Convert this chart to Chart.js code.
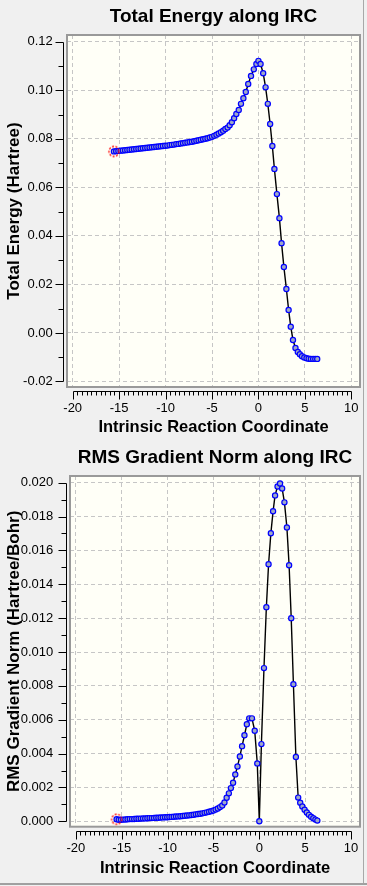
<!DOCTYPE html>
<html>
<head>
<meta charset="utf-8">
<title>IRC plots</title>
<script src="https://cdn.jsdelivr.net/npm/chart.js@4.4.1/dist/chart.umd.min.js"></script>
<style>
  html, body { margin: 0; padding: 0; background: #f0f0f0; }
  body { width: 367px; height: 886px; overflow: hidden; position: relative; }
  canvas { display: block; position: absolute; left: 0; }
  #energy-chart { top: 0; }
  #gradient-chart { top: 443px; }
  .edge-v { position: absolute; left: 363px; top: 0; width: 1px; height: 884px; background: #a8a8a8; }
  .edge-h { position: absolute; left: 0; top: 883px; width: 367px; height: 2px; background: #a0a0a0; }
</style>
</head>
<body>
<canvas id="energy-chart" width="367" height="443"></canvas>
<canvas id="gradient-chart" width="367" height="443"></canvas>
<div class="edge-v"></div>
<div class="edge-h"></div>
<script>
// IRC points, reactant end first, TS at 0
const ircCoord = [
  -15.56, -15.32, -15.08, -14.84, -14.60, -14.36, -14.12, -13.88, -13.64, -13.40,
  -13.16, -12.92, -12.68, -12.44, -12.20, -11.96, -11.72, -11.48, -11.24, -11.00,
  -10.76, -10.52, -10.28, -10.04, -9.80, -9.56, -9.32, -9.08, -8.84, -8.60,
  -8.36, -8.12, -7.88, -7.64, -7.40, -7.16, -6.92, -6.68, -6.44, -6.20,
  -5.96, -5.72, -5.48, -5.24,
  -5.00, -4.76, -4.52, -4.28, -4.04, -3.80, -3.56, -3.32, -3.10, -2.86,
  -2.62, -2.38, -2.12, -1.88, -1.62, -1.36, -1.10, -0.80, -0.50, -0.22,
  0,
  0.23, 0.51, 0.77, 1.01, 1.26, 1.50, 1.72, 1.99, 2.26, 2.49,
  2.74, 3.01, 3.25, 3.48, 3.72, 3.99, 4.24, 4.46, 4.69, 4.94,
  5.18, 5.41, 5.65, 5.89, 6.12, 6.33
];

const totalEnergy = [
  0.0748, 0.0749, 0.0750, 0.0751, 0.0752, 0.0753, 0.0754, 0.0755, 0.0756, 0.0757,
  0.0758, 0.0759, 0.0760, 0.0761, 0.0762, 0.0763, 0.0764, 0.0765, 0.0766, 0.0767,
  0.0768, 0.0769, 0.0770, 0.0771, 0.0772, 0.0774, 0.0775, 0.0776, 0.0778, 0.0779,
  0.0781, 0.0782, 0.0784, 0.0785, 0.0787, 0.0788, 0.0790, 0.0792, 0.0794, 0.0796,
  0.0798, 0.0800, 0.0802, 0.0805,
  0.0808, 0.0812, 0.0817, 0.0822, 0.0827, 0.0833, 0.0840, 0.0846, 0.0856, 0.0868,
  0.0885, 0.0902, 0.0919, 0.0944, 0.0967, 0.0993, 0.1026, 0.1059, 0.1086, 0.1108,
  0.1121,
  0.1108, 0.1070, 0.1012, 0.0944, 0.0861, 0.0770, 0.0676, 0.0572, 0.0473, 0.0370,
  0.0272, 0.0181, 0.0095, 0.0026, -0.0029, -0.0062, -0.0078, -0.0088, -0.0096, -0.0101,
  -0.0104, -0.0106, -0.0107, -0.0107, -0.0107, -0.0107
];

const rmsGradient = [
  0.00012, 0.00009, 0.00009, 0.00010, 0.00011, 0.00012, 0.00013, 0.00013, 0.00014, 0.00015,
  0.00015, 0.00016, 0.00017, 0.00017, 0.00018, 0.00019, 0.00019, 0.00020, 0.00021, 0.00021,
  0.00022, 0.00023, 0.00024, 0.00024, 0.00025, 0.00026, 0.00027, 0.00028, 0.00029, 0.00030,
  0.00031, 0.00033, 0.00034, 0.00035, 0.00037, 0.00039, 0.00041, 0.00043, 0.00045, 0.00047,
  0.00050, 0.00053, 0.00056, 0.00060,
  0.00064, 0.00069, 0.00076, 0.00084, 0.00093, 0.00111, 0.00139, 0.00165, 0.00196, 0.00228,
  0.00277, 0.00324, 0.00383, 0.00444, 0.00508, 0.00573, 0.00608, 0.00608, 0.00535, 0.00342,
  0.00000,
  0.00456, 0.00905, 0.01265, 0.01518, 0.01701, 0.01831, 0.01925, 0.01978, 0.01996, 0.01966,
  0.01884, 0.01736, 0.01512, 0.01200, 0.00810, 0.00380, 0.00140, 0.00110, 0.00088, 0.00068,
  0.00052, 0.00038, 0.00027, 0.00018, 0.00010, 0.00004
];

const ircTicks = [-20, -15, -10, -5, 0, 5, 10];
const energyTicks = [-0.02, 0.00, 0.02, 0.04, 0.06, 0.08, 0.10, 0.12];
const gradientTicks = [0.000, 0.002, 0.004, 0.006, 0.008, 0.010, 0.012, 0.014, 0.016, 0.018, 0.020];

const FONT = "'Liberation Sans', Arial, sans-serif";
Chart.defaults.font.family = FONT;
Chart.defaults.color = '#000';

// dotted red ring around the starting point
const startRing = document.createElement('canvas');
startRing.width = 14;
startRing.height = 14;
(function () {
  const c = startRing.getContext('2d');
  c.strokeStyle = '#ff0000';
  c.lineWidth = 1.3;
  c.setLineDash([2, 1.5]);
  c.beginPath();
  c.arc(7, 7, 5, 0, Math.PI * 2);
  c.stroke();
})();

// ivory plot box, grey frame, and black axes drawn a few px outside the frame
const axisFrame = {
  id: 'axisFrame',
  beforeDraw(chart) {
    const {ctx, chartArea: a} = chart;
    ctx.save();
    ctx.fillStyle = '#fffff7';
    ctx.fillRect(a.left, a.top, a.right - a.left, a.bottom - a.top);
    ctx.restore();
  },
  afterDraw(chart, args, opts) {
    const {ctx, chartArea: a} = chart;
    const xs = chart.scales.x, ys = chart.scales.y;
    ctx.save();
    ctx.strokeStyle = '#999999';
    ctx.lineWidth = 2;
    ctx.strokeRect(a.left, a.top, a.right - a.left, a.bottom - a.top);

    ctx.strokeStyle = '#000';
    ctx.lineWidth = 1;
    const ax = Math.round(a.left - opts.gap) + 0.5;
    const ay = Math.round(a.bottom + opts.gap) + 0.5;

    // y axis
    const yt = ys.ticks.map(t => t.value);
    const y0 = ys.getPixelForValue(yt[0]), y1 = ys.getPixelForValue(yt[yt.length - 1]);
    ctx.beginPath();
    ctx.moveTo(ax, Math.round(y0) + 0.5);
    ctx.lineTo(ax, Math.round(y1) + 0.5);
    const ny = Math.round((yt[yt.length - 1] - yt[0]) / opts.yMinor);
    for (let i = 0; i <= ny; i++) {
      const v = yt[0] + i * opts.yMinor;
      const p = Math.round(ys.getPixelForValue(v)) + 0.5;
      const len = (i % opts.yEvery === 0) ? 8 : 5;
      ctx.moveTo(ax - len, p);
      ctx.lineTo(ax, p);
    }
    ctx.stroke();

    // x axis
    const xt = xs.ticks.map(t => t.value);
    const x0 = xs.getPixelForValue(xt[0]), x1 = xs.getPixelForValue(xt[xt.length - 1]);
    ctx.beginPath();
    ctx.moveTo(Math.round(x0) + 0.5, ay);
    ctx.lineTo(Math.round(x1) + 0.5, ay);
    const nx = Math.round((xt[xt.length - 1] - xt[0]) / opts.xMinor);
    for (let i = 0; i <= nx; i++) {
      const v = xt[0] + i * opts.xMinor;
      const p = Math.round(xs.getPixelForValue(v)) + 0.5;
      const len = (i % opts.xEvery === 0) ? 8 : 4;
      ctx.moveTo(p, ay);
      ctx.lineTo(p, ay + len);
    }
    ctx.stroke();
    ctx.restore();
  }
};

function makeChart(id, cfg) {
  const ctx = document.getElementById(id).getContext('2d');
  return new Chart(ctx, {
    type: 'line',
    data: {
      datasets: [{
        data: ircCoord.map((x, i) => ({x: x, y: cfg.values[i]})),
        borderColor: '#000',
        borderWidth: 1.4,
        pointRadius: 2.6,
        pointBorderWidth: 1.2,
        pointBorderColor: '#0000ff',
        pointBackgroundColor: '#9ea8c6',
        tension: 0,
        order: 1
      }, {
        data: [{x: ircCoord[0], y: cfg.values[0]}],
        showLine: false,
        pointStyle: startRing,
        pointRadius: 6,
        order: 0
      }]
    },
    options: {
      responsive: false,
      animation: false,
      events: [],
      layout: {padding: {left: 0, right: 7, top: 0, bottom: 0}},
      plugins: {
        legend: {display: false},
        tooltip: {enabled: false},
        title: {
          display: true,
          text: cfg.title,
          fullSize: false,
          color: '#000',
          font: {size: 19, weight: 'bold'},
          padding: cfg.titlePad
        },
        axisFrame: {gap: 4, xMinor: 0.5, xEvery: 10, yMinor: cfg.yMinor, yEvery: 2}
      },
      scales: {
        x: {
          type: 'linear',
          min: cfg.xMin,
          max: cfg.xMax,
          afterBuildTicks: s => { s.ticks = ircTicks.map(v => ({value: v})); },
          afterFit: s => { s.height = cfg.xHeight; s.paddingLeft = 0; s.paddingRight = 0; },
          grid: {color: '#c6c6c6', drawTicks: false},
          border: {display: false, dash: [4, 3]},
          ticks: {autoSkip: false, maxRotation: 0, padding: 14, font: {size: 13},
                  callback: v => String(v)},
          title: {display: true, text: 'Intrinsic Reaction Coordinate',
                  font: {size: 16.5, weight: 'bold'}, padding: {top: 0, bottom: cfg.xTitlePad}}
        },
        y: {
          type: 'linear',
          min: cfg.yMin,
          max: cfg.yMax,
          afterBuildTicks: s => { s.ticks = cfg.ticks.map(v => ({value: v})); },
          afterFit: s => { s.width = cfg.yWidth; s.paddingTop = 0; s.paddingBottom = 0; },
          grid: {color: '#c6c6c6', drawTicks: false},
          border: {display: false, dash: [4, 3]},
          ticks: {autoSkip: false, padding: cfg.yLabelPad, font: {size: 13},
                  callback: v => v.toFixed(cfg.decimals)},
          title: {display: true, text: cfg.yTitle,
                  font: {size: 17, weight: 'bold'}, padding: {top: 4, bottom: 0}}
        }
      }
    },
    plugins: [axisFrame]
  });
}

makeChart('energy-chart', {
  values: totalEnergy,
  ticks: energyTicks,
  decimals: 2,
  title: 'Total Energy along IRC',
  yTitle: 'Total Energy (Hartree)',
  titlePad: {top: 5.6, bottom: 6.6},
  xMin: -20.614, xMax: 10.937,
  yMin: -0.02227, yMax: 0.12276,
  yMinor: 0.01,
  yWidth: 67, xHeight: 56,
  yLabelPad: 14.3, xTitlePad: 6.1
});

makeChart('gradient-chart', {
  values: rmsGradient,
  ticks: gradientTicks,
  decimals: 3,
  title: 'RMS Gradient Norm along IRC',
  yTitle: 'RMS Gradient Norm (Hartree/Bohr)',
  titlePad: {top: 3.6, bottom: 6.6},
  xMin: -20.643, xMax: 10.981,
  yMin: -0.000319, yMax: 0.020396,
  yMinor: 0.001,
  yWidth: 70, xHeight: 59.3,
  yLabelPad: 16.7, xTitlePad: 8.1
});
</script>
</body>
</html>
